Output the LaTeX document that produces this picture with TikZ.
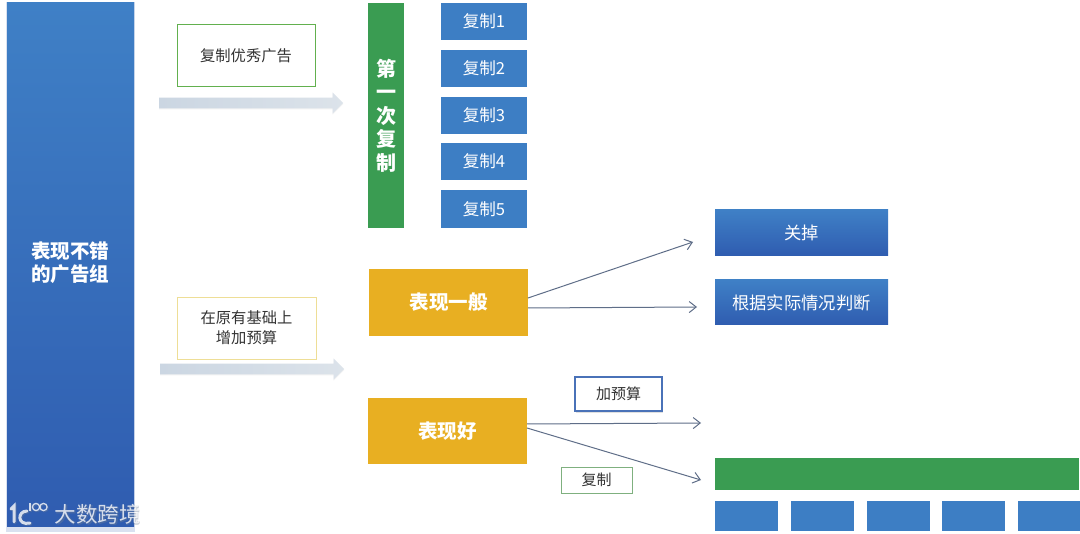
\documentclass[tikz,border=0pt]{standalone}
\usepackage{fontspec}
\setmainfont{Noto Sans CJK SC}
\usetikzlibrary{shapes.arrows,shadows,arrows.meta,calc}
\definecolor{bluetop}{HTML}{3F80C6}
\definecolor{bluebot}{HTML}{2F5CB0}
\definecolor{blueflat}{HTML}{3D7EC4}
\definecolor{greenflat}{HTML}{3A9C52}
\definecolor{goldflat}{HTML}{E8AF22}
\definecolor{inkdark}{HTML}{333333}
\definecolor{linecol}{HTML}{5F6E88}
\definecolor{arrowl}{HTML}{CBD6E2}
\definecolor{arrowr}{HTML}{DCE3EA}
\definecolor{boxleaf}{HTML}{62B04E}
\definecolor{edgegreenb}{HTML}{7FB07F}
\definecolor{edgeyellow}{HTML}{EEDE96}
\definecolor{edgeblue}{HTML}{4A72B8}
\definecolor{markgrey}{HTML}{6F7F96}
\tikzset{
  x=1pt,y=-1pt,
  basebox/.style={rectangle,inner sep=0pt,outer sep=0pt,align=center},
  gradbox/.style={basebox,top color=bluetop,bottom color=bluebot,text=white,font=\fontsize{17.3}{21}\selectfont},
  flatblue/.style={basebox,fill=blueflat,text=white,font=\fontsize{16.6}{20}\selectfont},
  flatgreen/.style={basebox,fill=greenflat},
  goldbox/.style={basebox,fill=goldflat,text=white,font=\bfseries\fontsize{19.5}{23}\selectfont},
  labelbox/.style={basebox,fill=white,text=inkdark,font=\fontsize{15.3}{20}\selectfont,line width=.8pt},
  blockarrow/.style={single arrow,inner sep=0pt,outer sep=0pt,minimum height=184pt,minimum width=21pt,
    text height=10.5pt,text depth=0pt,text width=1pt,
    single arrow head extend=5.25pt,single arrow head indent=0pt,draw=none,left color=arrowl,right color=arrowr,
    general shadow={fill=black!25,opacity=.18,shadow yshift=-1pt}},
  link/.style={draw=linecol,line width=1pt,-{Straight Barb[length=7pt,width=11pt,line width=1pt]}},
  softglow/.style={general shadow={fill=bluebot!60,opacity=.3,shadow xshift=0pt,shadow yshift=-2pt,shadow scale=1.01}},
}
\begin{document}
\begin{tikzpicture}
\useasboundingbox (0,0) rectangle (1080,534);
\fill[white] (0,0) rectangle (1080,534);

% left bar
\node[gradbox,softglow,minimum width=127pt,minimum height=524pt] (bar) at (70.5,265) {};
\node[basebox,text=white,font=\bfseries\fontsize{19.5}{23}\selectfont] (barlabel) at (70,262.5) {表现不错\\的广告组};

% label boxes
\node[labelbox,draw=boxleaf,line width=1pt,minimum width=138pt,minimum height=62pt] (copyad) at (246,56) {复制优秀广告};
\node[labelbox,draw=edgeyellow,minimum width=139pt,minimum height=62pt] (budget) at (246.5,328) {在原有基础上\\增加预算};

% block arrows
\node[blockarrow] (arrowa) at (248.5,103) {};
\node[blockarrow] (arrowb) at (249.5,369) {};

% first copy column
\node[flatgreen,text=white,font=\bfseries\fontsize{20}{23.5}\selectfont,minimum width=36pt,minimum height=225pt] (first) at (386,115.5) {第\\一\\次\\复\\制};

\node[flatblue,minimum width=86pt,minimum height=37pt] (c1) at (484,21.5) {复制1};
\node[flatblue,minimum width=86pt,minimum height=37pt] (c2) at (484,68.5) {复制2};
\node[flatblue,minimum width=86pt,minimum height=37pt] (c3) at (484,115.5) {复制3};
\node[flatblue,minimum width=86pt,minimum height=37pt] (c4) at (484,161.5) {复制4};
\node[flatblue,minimum width=86pt,minimum height=38pt] (c5) at (484,209) {复制5};

% gold boxes
\node[goldbox,minimum width=159pt,minimum height=67pt] (normal) at (448.5,302.5) {表现一般};
\node[goldbox,minimum width=159pt,minimum height=66pt] (good) at (447.5,431) {表现好};

% right top boxes
\node[gradbox,minimum width=173pt,minimum height=46pt] (close) at (801.5,233) {关掉};
\node[gradbox,minimum width=173pt,minimum height=45pt] (judge) at (801.5,302.5) {根据实际情况判断};

% small labels
\node[labelbox,draw=edgeblue,line width=1.2pt,font=\fontsize{15}{18}\selectfont,
  general shadow={fill=black,opacity=.12,shadow yshift=-2pt,shadow xshift=1pt},minimum width=87pt,minimum height=34pt] (addb) at (618.5,394) {加预算};
\node[labelbox,draw=edgegreenb,font=\fontsize{15}{18}\selectfont,minimum width=71pt,minimum height=26pt] (copyb) at (596.5,480) {复制};

% bottom right
\node[flatgreen,minimum width=364pt,minimum height=32pt] (gbar) at (897,474) {};
\node[basebox,fill=blueflat,minimum width=63pt,minimum height=30pt] (b1) at (746.5,516) {};
\node[basebox,fill=blueflat,minimum width=63pt,minimum height=30pt] (b2) at (822,516) {};
\node[basebox,fill=blueflat,minimum width=63pt,minimum height=30pt] (b3) at (898,516) {};
\node[basebox,fill=blueflat,minimum width=63pt,minimum height=30pt] (b4) at (973.5,516) {};
\node[basebox,fill=blueflat,minimum width=62pt,minimum height=30pt] (b5) at (1049,516) {};

% free ends of the connectors
\coordinate (e1) at (693,242);
\coordinate (e2) at (697,307);
\coordinate (e3) at (701,423);
\coordinate (e4) at (701,480);

\draw[link] ([yshift=4.5pt]normal.east) -- (e1);
\draw[link] ([yshift=-5.5pt]normal.east) -- (e2);
\draw[link] ([yshift=7pt]good.east) -- (e3);
\draw[link] ([yshift=3pt]good.east) -- (e4);

% watermark: soft shadow below, light mark above
\begin{scope}[markgrey,opacity=.4,shift={(1,1)}]
  \draw[line width=3pt,line cap=round] (11,509) -- (14,506) -- (14,522);
  \draw[line width=3pt,line cap=round] (27,511) .. controls (17,511) and (17,526) .. (30,523);
  \draw[line width=1.3pt] (30,503) -- (30,511);
  \draw[line width=1.3pt] (36,507) circle[radius=3.6pt];
  \draw[line width=1.3pt] (43.5,507) circle[radius=3.6pt];
  \node[inner sep=0pt,font=\bfseries\fontsize{21.5}{24}\selectfont] (wmshadow) at (97.5,514.5) {大数跨境};
\end{scope}
\begin{scope}[white,opacity=.78]
  \draw[line width=3pt,line cap=round] (11,509) -- (14,506) -- (14,522);
  \draw[line width=3pt,line cap=round] (27,511) .. controls (17,511) and (17,526) .. (30,523);
  \draw[line width=1.3pt] (30,503) -- (30,511);
  \draw[line width=1.3pt] (36,507) circle[radius=3.6pt];
  \draw[line width=1.3pt] (43.5,507) circle[radius=3.6pt];
  \node[inner sep=0pt,font=\fontsize{21.5}{24}\selectfont] (wm) at (97.5,514.5) {大数跨境};
\end{scope}
\end{tikzpicture}
\end{document}
